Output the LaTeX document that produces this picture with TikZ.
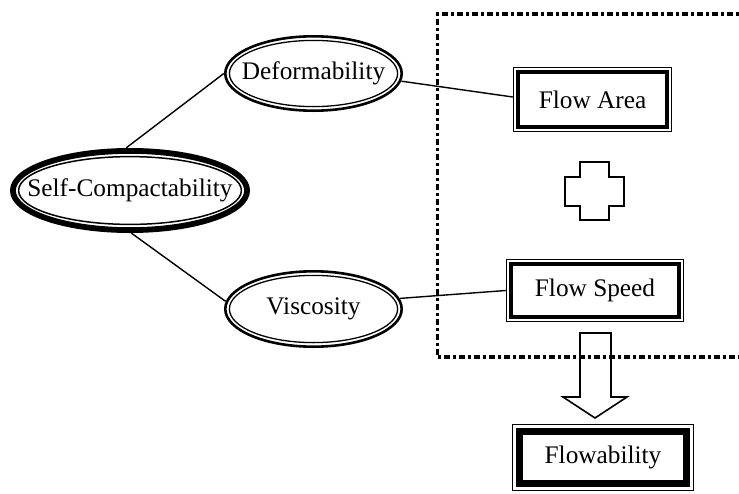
\documentclass[tikz,border=0pt]{standalone}
\usepackage{fontspec}
\setmainfont{Liberation Serif}
\usetikzlibrary{shapes.geometric}

% double frame around a rectangular node: outer line, then inner line
\newcommand\twoframe[5]{%
  \draw[line width=#2pt] ([shift={(#3,#3)}]#1.north west) rectangle ([shift={(-#3,-#3)}]#1.south east);
  \draw[line width=#4pt] ([shift={(#5,#5)}]#1.north west) rectangle ([shift={(-#5,-#5)}]#1.south east);}

\tikzset{
  lbl/.style={inner sep=0pt, font=\fontsize{25.3}{30}\selectfont},
  oval/.style={ellipse, inner sep=0pt},
  tag/.style={lbl, rectangle},
  link/.style={line width=1.4pt},
  fence/.style={line width=3.5pt, dash pattern=on 3pt off 3pt on 6pt off 3pt},
  outline/.style={line width=1.6pt, line join=miter},
}

\begin{document}
\begin{tikzpicture}[x=1pt, y=-1pt]
\useasboundingbox (0,0) rectangle (739,493);

% property ovals (shape nodes, labels set on top)
\node[oval, minimum width=240pt, minimum height=85pt] (sc) at (130,190.5) {};
\node[oval, minimum width=179pt, minimum height=77pt] (def) at (313.5,73.5) {};
\node[oval, minimum width=179pt, minimum height=78pt] (vis) at (313.5,309) {};
\node[lbl] (scT) at (sc.center) {Self-Compactability};
\node[lbl] (defT) at (def.center) {Deformability};
\node[lbl] (visT) at (vis.center) {Viscosity};

\draw[line width=5.8pt] (sc.center) ellipse [x radius=117.1pt, y radius=39.6pt];
\draw[line width=1.5pt] (sc.center) ellipse [x radius=111.4pt, y radius=33.9pt];
\draw[line width=2.6pt] (def.center) ellipse [x radius=88.2pt, y radius=37.2pt];
\draw[line width=1.3pt] (def.center) ellipse [x radius=84.1pt, y radius=33.1pt];
\draw[line width=2.6pt] (vis.center) ellipse [x radius=88.2pt, y radius=37.7pt];
\draw[line width=1.3pt] (vis.center) ellipse [x radius=84.1pt, y radius=33.6pt];

% flow boxes
\node[tag, minimum width=159pt, minimum height=65pt] (fa) at (592.5,99.5) {Flow Area};
\node[tag, minimum width=178pt, minimum height=63pt] (fs) at (595,290.5) {Flow Speed};
\node[tag, minimum width=182pt, minimum height=67pt] (fl) at (603,457.5) {Flowability};

\twoframe{fa}{1.1}{0.55}{4}{5}
\twoframe{fs}{1.1}{0.55}{4}{5}
\twoframe{fl}{1.5}{0.75}{7.5}{7.5}

% links
\draw[link] (sc.95) -- (def.west);
\draw[link] (sc.-88) -- (vis.175);
\draw[link] (def.-5) -- ([yshift=2.5pt]fa.west);
\draw[link] (vis.7) -- (fs.west);

% dotted enclosure, open on the right
\draw[fence] (739,14) -- (437.5,14) -- (437.5,357) -- (739,357);

% plus sign
\draw[outline] (580,162) -- (609,162) -- (609,177) -- (624,177) -- (624,206)
  -- (609,206) -- (609,220) -- (580,220) -- (580,206) -- (565,206)
  -- (565,177) -- (580,177) -- cycle;

% block arrow down to the result
\draw[outline] (580,333) -- (611,333) -- (611,397) -- (627,397) -- (595,418)
  -- (563,397) -- (580,397) -- cycle;
\end{tikzpicture}
\end{document}
